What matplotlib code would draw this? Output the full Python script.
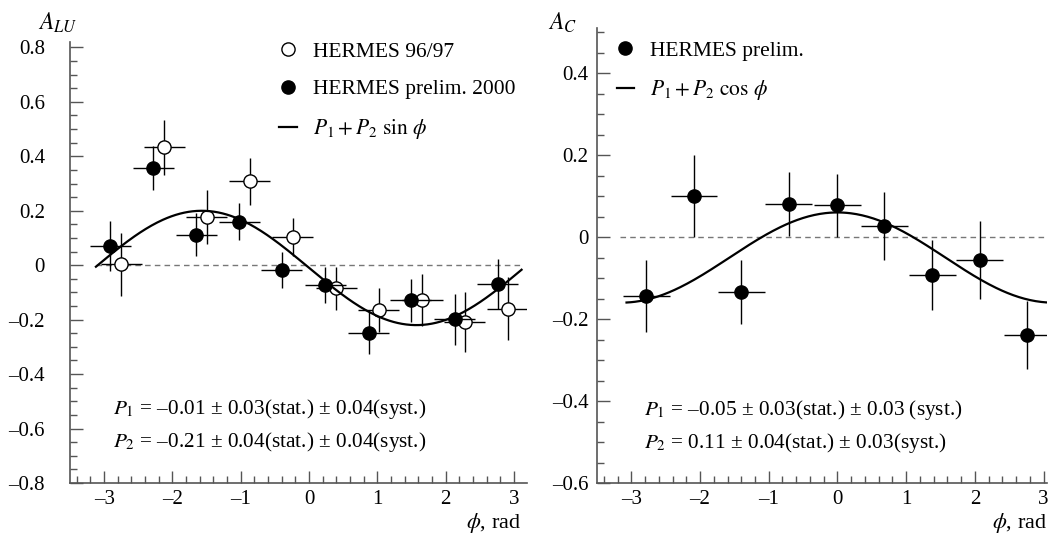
import numpy as np
import matplotlib
matplotlib.use('Agg')
import matplotlib.pyplot as plt
from matplotlib.ticker import MultipleLocator, FuncFormatter
from matplotlib.lines import Line2D

plt.rcParams['font.family'] = ['Liberation Serif', 'DejaVu Serif']
plt.rcParams['mathtext.fontset'] = 'stix'

# left panel: beam-spin asymmetry A_LU
phi_9697 = [-2.75, -2.12, -1.50, -0.87, -0.24, 0.40, 1.02, 1.66, 2.28, 2.91]
alu_9697 = [0.003, 0.433, 0.177, 0.308, 0.104, -0.085, -0.164, -0.129, -0.210, -0.159]
alu_9697_err = [0.117, 0.100, 0.100, 0.085, 0.070, 0.080, 0.080, 0.096, 0.110, 0.116]

phi_2000 = [-2.91, -2.28, -1.65, -1.02, -0.40, 0.24, 0.87, 1.49, 2.13, 2.76]
alu_2000 = [0.069, 0.357, 0.112, 0.160, -0.017, -0.072, -0.249, -0.129, -0.198, -0.069]
alu_2000_err = [0.092, 0.081, 0.078, 0.068, 0.067, 0.066, 0.076, 0.078, 0.094, 0.093]
phi_bin_left = 0.30

# right panel: beam-charge asymmetry A_C
phi_c = [-2.78, -2.09, -1.40, -0.71, 0.00, 0.68, 1.38, 2.07, 2.76]
ac = [-0.143, 0.101, -0.133, 0.080, 0.077, 0.028, -0.092, -0.057, -0.239]
ac_err = [0.088, 0.100, 0.078, 0.078, 0.078, 0.083, 0.086, 0.095, 0.083]
phi_bin_right = 0.34

# fit parameters printed on the figure
P1_lu, P2_lu = -0.01, -0.21
P1_c, P2_c = -0.05, 0.11

DASH = '\u2013'
PM = '\u00b1'


def fmt_y(v, pos):
    if abs(v) < 1e-9:
        return '0'
    return ('%.1f' % v).replace('-', DASH)


def fmt_x(v, pos):
    return ('%d' % round(v)).replace('-', DASH)


def style_axes(ax, ypad):
    for s in ['top', 'right']:
        ax.spines[s].set_visible(False)
    for s in ['left', 'bottom']:
        ax.spines[s].set_color('#555555')
        ax.spines[s].set_linewidth(1.2)
    ax.xaxis.set_major_locator(MultipleLocator(1))
    ax.xaxis.set_minor_locator(MultipleLocator(0.2))
    ax.yaxis.set_major_locator(MultipleLocator(0.2))
    ax.yaxis.set_minor_locator(MultipleLocator(0.05))
    ax.xaxis.set_major_formatter(FuncFormatter(fmt_x))
    ax.yaxis.set_major_formatter(FuncFormatter(fmt_y))
    ax.tick_params(which='both', direction='in', color='#555555', width=1.0, labelsize=15)
    ax.tick_params(which='major', length=9)
    ax.tick_params(which='minor', length=5)
    ax.tick_params(axis='y', pad=ypad)
    ax.tick_params(axis='x', pad=5)


fig = plt.figure(figsize=(10.49, 5.35), dpi=100)
axL = fig.add_axes([0.0667, 0.0972, 0.4357, 0.8243])
axR = fig.add_axes([0.5691, 0.0972, 0.4290, 0.8505])

# ---- left
phi = np.linspace(-3.12, 3.11, 300)
axL.plot([-3.12, 3.12], [0, 0], ls=(0, (4, 3)), color='#777777', lw=1.0)
axL.errorbar(phi_9697, alu_9697, yerr=alu_9697_err, xerr=phi_bin_left, fmt='o', ms=9.5,
             mfc='white', mec='black', mew=1.0, ecolor='black', elinewidth=1.0, capsize=0, zorder=3)
axL.errorbar(phi_2000, alu_2000, yerr=alu_2000_err, xerr=phi_bin_left, fmt='o', ms=9.5,
             mfc='black', mec='black', ecolor='black', elinewidth=1.0, capsize=0, zorder=4)
axL.plot(phi, P1_lu + P2_lu * np.sin(phi), color='black', lw=1.6, zorder=5)
axL.set_xlim(-3.5, 3.19)
axL.set_ylim(-0.8, 0.82)
style_axes(axL, 18)

hL = [Line2D([], [], ls='none', marker='o', ms=9.5, mfc='white', mec='black'),
      Line2D([], [], ls='none', marker='o', ms=9.5, mfc='black', mec='black'),
      Line2D([], [], color='black', lw=1.6)]
axL.legend(hL, ['HERMES 96/97', 'HERMES prelim. 2000', r'$P_1 + P_2\ \sin\,\phi$'],
           loc='upper left', bbox_to_anchor=(0.425, 1.035), frameon=False, fontsize=15.5,
           handlelength=0.8, handletextpad=0.75, labelspacing=0.82, borderpad=0.2)

axL.text(0.095, 0.167, r'$P_1$ = ' + DASH + '0.01 ' + PM + ' 0.03(stat.) ' + PM + ' 0.04(syst.)',
         transform=axL.transAxes, fontsize=15.3, va='center')
axL.text(0.095, 0.092, r'$P_2$ = ' + DASH + '0.21 ' + PM + ' 0.04(stat.) ' + PM + ' 0.04(syst.)',
         transform=axL.transAxes, fontsize=15.3, va='center')

# ---- right
phi2 = np.linspace(-3.07, 3.07, 300)
axR.plot([-3.17, 3.1], [0, 0], ls=(0, (4, 3)), color='#777777', lw=1.0)
axR.errorbar(phi_c, ac, yerr=ac_err, xerr=phi_bin_right, fmt='o', ms=9.5,
             mfc='black', mec='black', ecolor='black', elinewidth=1.0, capsize=0, zorder=4)
axR.plot(phi2, P1_c + P2_c * np.cos(phi2), color='black', lw=1.6, zorder=5)
axR.set_xlim(-3.5, 3.05)
axR.set_ylim(-0.6, 0.51)
style_axes(axR, 6)

hR = [Line2D([], [], ls='none', marker='o', ms=9.5, mfc='black', mec='black'),
      Line2D([], [], color='black', lw=1.6)]
axR.legend(hR, ['HERMES prelim.', r'$P_1 + P_2\ \cos\,\phi$'],
           loc='upper left', bbox_to_anchor=(0.01, 1.005), frameon=False, fontsize=15.5,
           handlelength=0.8, handletextpad=0.75, labelspacing=0.82, borderpad=0.2)

axR.text(0.105, 0.161, r'$P_1$ = ' + DASH + '0.05 ' + PM + ' 0.03(stat.) ' + PM + ' 0.03 (syst.)',
         transform=axR.transAxes, fontsize=15.3, va='center')
axR.text(0.105, 0.089, r'$P_2$ = 0.11 ' + PM + ' 0.04(stat.) ' + PM + ' 0.03(syst.)',
         transform=axR.transAxes, fontsize=15.3, va='center')

# axis titles
fig.text(0.036, 0.958, r'$A_{LU}$', fontsize=17, va='center')
fig.text(0.522, 0.958, r'$A_C$', fontsize=17, va='center')
fig.text(0.497, 0.022, r'$\phi$, rad', fontsize=16, ha='right', va='center')
fig.text(0.998, 0.022, r'$\phi$, rad', fontsize=16, ha='right', va='center')

fig.savefig('out.png', dpi=100)
